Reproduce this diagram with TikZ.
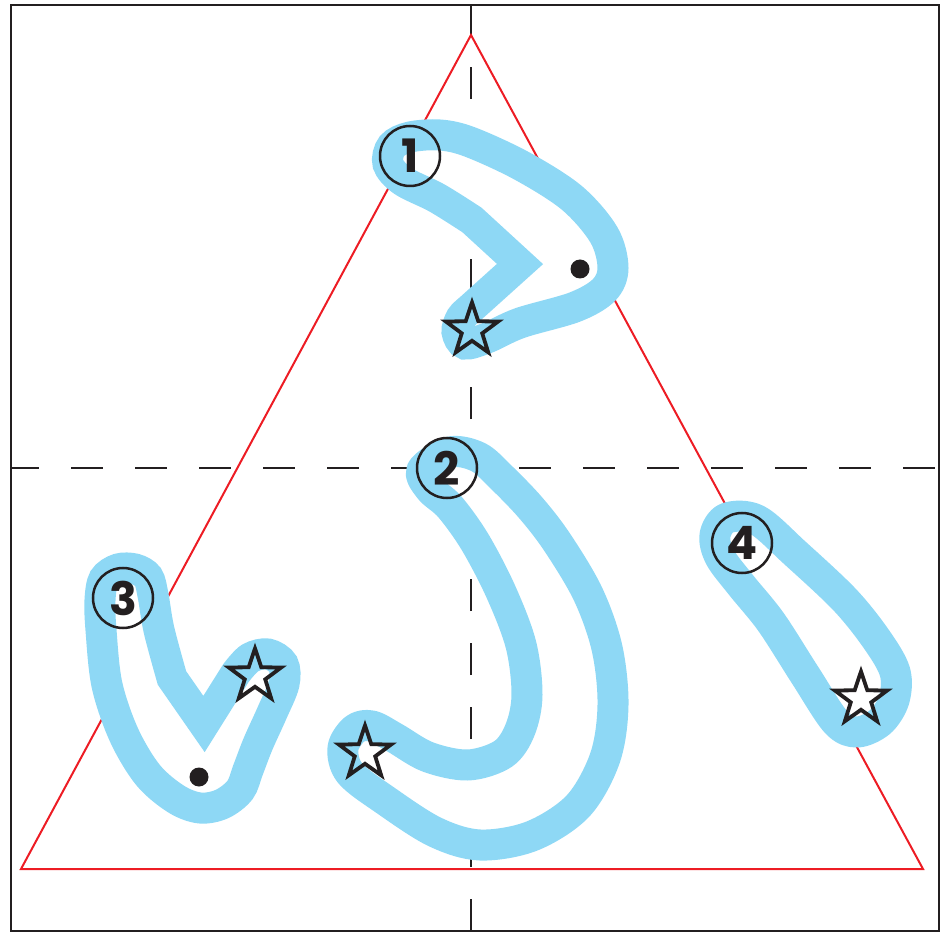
\documentclass[tikz,border=0pt]{standalone}
\usepackage{fontspec}
\setmainfont{Poppins}
\usetikzlibrary{shapes.geometric}
\definecolor{sky}{HTML}{8ED8F5}
\definecolor{tri}{HTML}{ED1C24}
\definecolor{ink}{HTML}{231F20}
\begin{document}
\begin{tikzpicture}[x=1pt,y=-1pt,
  band/.style={draw=sky, fill=white, line width=31pt, line join=round},
  vband/.style={draw=sky, fill=white, line width=31pt, line join=miter, miter limit=10},
  numc/.style={circle, draw=ink, line width=2.5pt, minimum size=60pt, inner sep=0pt, font=\fontsize{46}{46}\selectfont\bfseries, text=ink},
  starn/.style={star, star points=5, star point ratio=2.55, minimum size=55pt, inner sep=0pt, draw=ink, line width=3.8pt, line join=miter},
  dotn/.style={circle, fill=ink, minimum size=19pt, inner sep=0pt},
  guide/.style={draw=ink, line width=1.8pt, dash pattern=on 32pt off 32pt},
  redline/.style={draw=tri, line width=2pt, line join=miter}]
\useasboundingbox (0,0) rectangle (943,933);
% guide lines
\draw[guide] (471,931) -- (471,5);
\draw[guide, dash phase=4pt] (11,468) -- (939,468);
% triangle
\draw[redline] (471,35) -- (923,869) -- (21,869) -- cycle;
% stroke 1
\draw[vband] (520,264) -- plot[smooth, tension=0.55] coordinates {(472,220) (437,198) (403,181) (388,164) (392,146) (410,137) (440,135) (470,142) (522,166) (572,198) (604,235) (613,268) (604,290) (575,307) (520,323) (487,338) (465,344) (457,332) (461,318) (470,309)} -- cycle;
% stroke 2
\draw[band] plot[smooth cycle, tension=0.55] coordinates {(450,452) (478,457) (500,476) (530,507) (557,542) (588,594) (607,648) (613,705) (605,758) (578,806) (532,836) (480,845) (435,832) (385,800) (350,773) (343,748) (355,729) (372,726) (395,738) (428,757) (468,765) (503,754) (520,730) (527,695) (521,645) (501,592) (475,542) (450,507) (430,489) (422,470)};
% stroke 3
\draw[vband] (204,724) -- plot[smooth, tension=0.55] coordinates {(172,678) (159,630) (153,595) (148,577) (135,569) (118,569) (104,579) (100,600) (101,630) (107,685) (124,735) (148,775) (176,799) (200,808) (222,804) (240,790) (248,770) (258,744) (272,713) (284,684) (283,664) (268,654) (250,658) (236,673)} -- cycle;
% stroke 4
\draw[band] plot[smooth cycle, tension=0.55] coordinates {(727,518) (757,520) (795,553) (845,600) (877,640) (895,672) (894,700) (880,722) (857,732) (836,722) (805,675) (771,622) (741,585) (720,557) (715,535)};
% dots
\node[dotn] (d1) at (580,269) {};
\node[dotn] (d3) at (199,777) {};
% stars
\node[starn] (s1) at (472,330) {};
\node[starn] (s2) at (365,753) {};
\node[starn] (s3) at (255,676) {};
\node[starn] (s4) at (861,699) {};
% numbered circles
\node[numc] (n1) at (410,156) {1};
\node[numc] (n2) at (447,468) {2};
\node[numc] (n3) at (123,598) {3};
\node[numc] (n4) at (742,543) {4};
% frame
\draw[draw=ink, line width=2.5pt] (11,5) rectangle (939,931);
\end{tikzpicture}
\end{document}
